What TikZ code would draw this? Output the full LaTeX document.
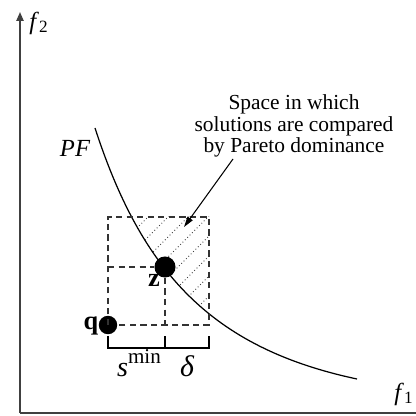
\documentclass[tikz,border=0pt]{standalone}
\usepackage{fontspec}
\setmainfont{Liberation Serif}
\usetikzlibrary{arrows.meta}
\tikzset{
    axis/.style={line width=1pt, black!75},
    guide/.style={line width=0.6pt, black!80, dash pattern=on 3.6pt off 2.4pt},
    hatch/.style={line width=0.5pt, black!75, dash pattern=on 0.5pt off 1.4pt},
    dot/.style={circle, fill=black, inner sep=0pt, minimum size=#1},
}
\begin{document}
\begin{tikzpicture}[x=0.02cm, y=0.02cm]
        \useasboundingbox (0,0) rectangle (416,416);
        % ejes
        \draw[axis, -{Triangle[length=5pt, width=4pt]}] (20,3) -- (20,404);
        \draw[axis] (20,3) -- (416,3);
        \node[font=\fontsize{14}{14}\selectfont] (f2lab) at (39,393) {\textit{f}\textsubscript{2}};
        \node[font=\fontsize{14}{14}\selectfont] (f1lab) at (404,22) {\textit{f}\textsubscript{1}};
        % zona comparada por dominancia
        \begin{scope}
            \clip (165,199) rectangle (209,91);
            \clip (95,288) .. controls (141.4,145.3) and (210.3,68.2) .. (357,37)
                -- (416,37) -- (416,416) -- (95,416) -- cycle;
            \foreach \k in {-100,-80,...,60}
                \draw[hatch] (140+\k,91) -- ++(150,150);
        \end{scope}
        \begin{scope}
            \clip (95,288) .. controls (141.4,145.3) and (210.3,68.2) .. (357,37)
                -- (416,37) -- (416,416) -- (95,416) -- cycle;
            \clip (108,199) rectangle (165,149);
            \foreach \k in {-100,-80,...,60}
                \draw[hatch] (140+\k,91) -- ++(150,150);
        \end{scope}
        % frente de Pareto
        \draw[line width=0.7pt] (95,288) .. controls (141.4,145.3) and (210.3,68.2) .. (357,37);
        \node[font=\fontsize{14}{14}\selectfont\itshape] (pflab) at (75,268) {PF};
        % puntos
        \node[dot=12pt] (z) at (165,149) {};
        \node[dot=10.5pt] (q) at (108,91) {};
        \node[font=\fontsize{15}{15}\selectfont\bfseries, anchor=base] (zlab) at (154,129) {z};
        \node[font=\fontsize{15}{15}\selectfont\bfseries, anchor=base] (qlab) at (91,86) {q};
        % rejilla discontinua
        \draw[guide] (108,91) -- (108,199) -- (209,199) -- (209,91) -- (q);
        \draw[guide] (108,149) -- (z) -- (165,91);
        % corchete
        \draw[line width=0.6pt] (108,80) -- (108,68) -- (209,68) -- (209,80);
        \draw[line width=0.6pt] (165,68) -- (165,80);
        \node[font=\fontsize{16}{16}\selectfont, anchor=base] (smin) at (139,39)
            {\textit{s}\raisebox{1.05ex}{\fontsize{12}{12}\selectfont min}};
        \node[font=\fontsize{17}{17}\selectfont\itshape, anchor=base] (dlt) at (187,39) {δ};
        % nota
        \node[font=\fontsize{12.2}{12.4}\selectfont, align=center, inner sep=0pt] (note) at (294,290)
            {Space in which\\solutions are compared\\by Pareto dominance};
        \coordinate (tail) at (233,257);
        \coordinate (tip) at (184,189);
        \draw[line width=0.6pt, -{Triangle[length=6pt, width=3.5pt]}] (tail) -- (tip);
    \end{tikzpicture}
\end{document}
